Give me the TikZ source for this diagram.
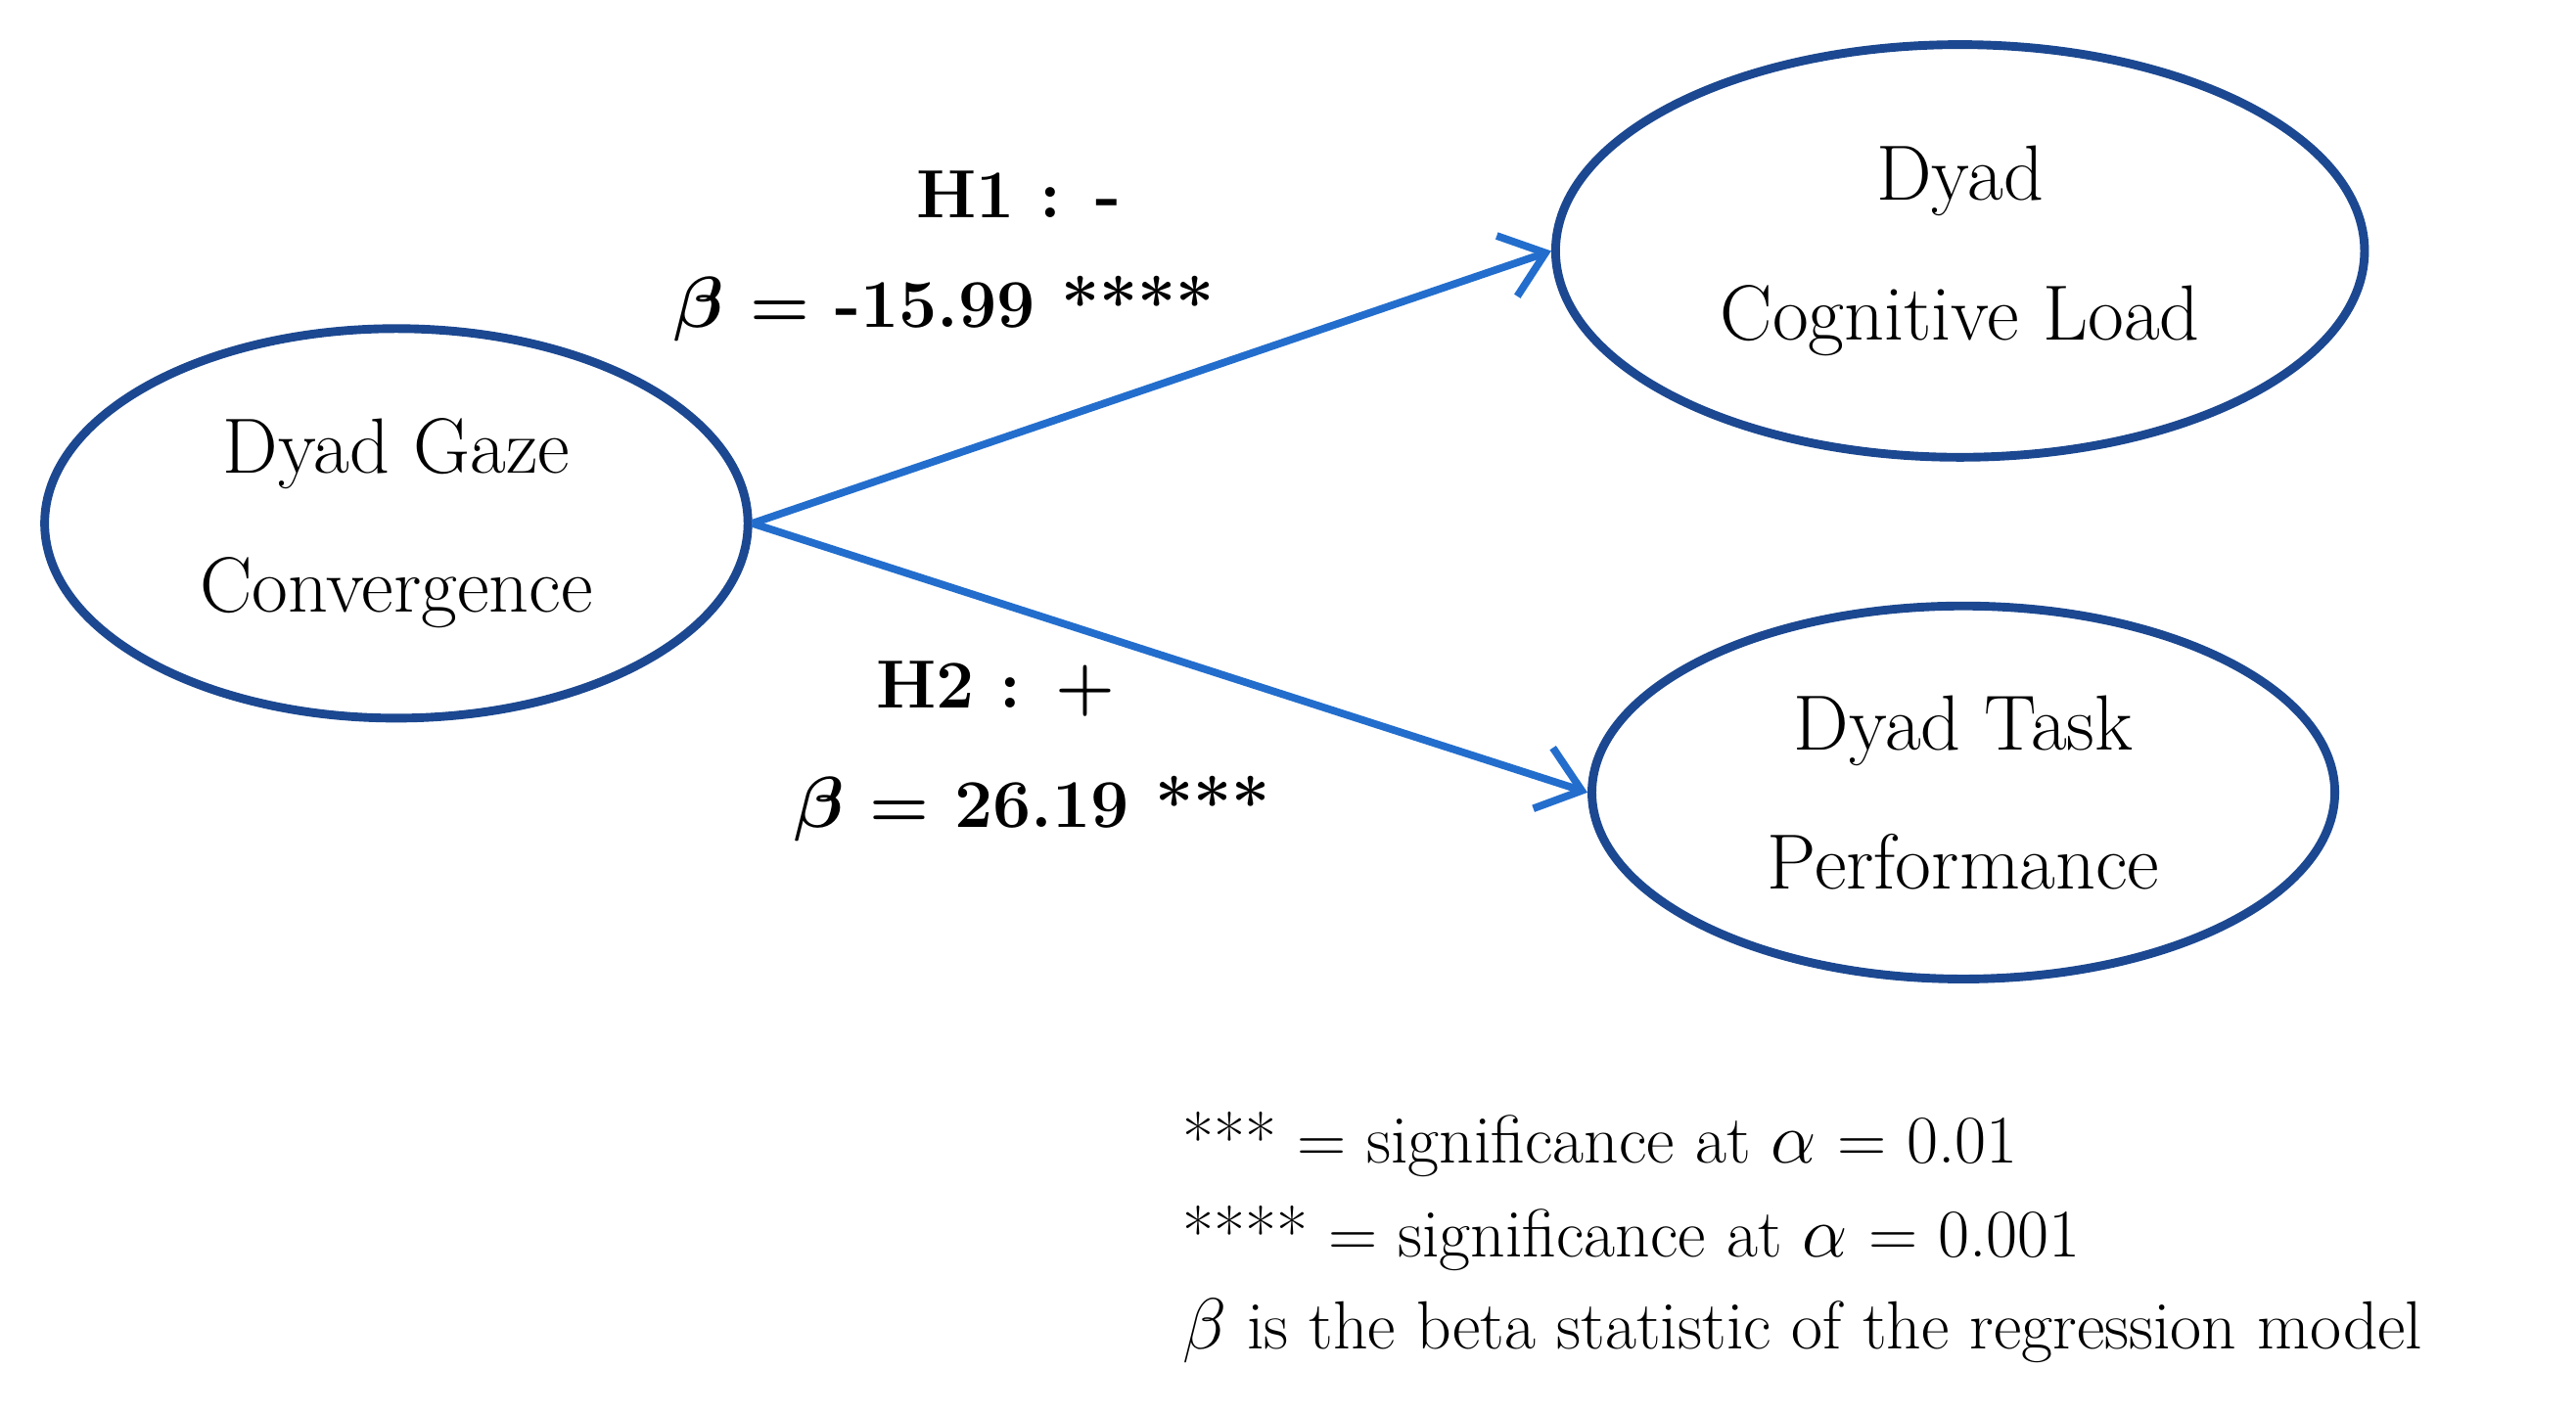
\documentclass[tikz,border=0pt]{standalone}
\usetikzlibrary{arrows.meta,shapes.geometric}
\definecolor{edge}{RGB}{28,72,145}
\definecolor{arr}{RGB}{35,110,205}
\begin{document}
\begin{tikzpicture}[x=0.02cm,y=-0.02cm,
  ell/.style={draw=edge,line width=3pt,ellipse,inner sep=0pt,font=\fontsize{27}{34}\selectfont,align=center},
  hl/.style={font=\fontsize{23.5}{30}\selectfont\bfseries\boldmath},
  leg/.style={font=\fontsize{23.5}{28}\selectfont,anchor=west},
  ar/.style={draw=arr,line width=2.6pt,-{Straight Barb[length=14pt,width=22pt,line width=2.6pt]}}]
\useasboundingbox (0,0) rectangle (1560,856);
\node[ell,minimum width=8.52cm,minimum height=4.72cm] (a) at (240,317) {Dyad Gaze\\[14pt]Convergence};
\node[ell,minimum width=9.8cm,minimum height=5cm] (b) at (1187,152) {Dyad\\[14pt]Cognitive Load};
\node[ell,minimum width=9cm,minimum height=4.52cm] (c) at (1189,480) {Dyad Task\\[14pt]Performance};
\draw[ar] (a.east) -- (b.west);
\draw[ar] (a.east) -- (c.west);
\node[hl] (h1) at (617,118) {H1 : -};
\node[hl] (b1) at (572,187) {$\beta$ = -15.99 ****};
\node[hl] (h2) at (603,417) {H2 : +};
\node[hl] (b2) at (625,490) {$\beta$ = 26.19 ***};
\node[leg] (l1) at (710,693) {*** = significance at $\alpha$ = 0.01};
\node[leg] (l2) at (710,750) {**** = significance at $\alpha$ = 0.001};
\node[leg] (l3) at (710,806) {$\beta$ is the beta statistic of the regression model};
\end{tikzpicture}
\end{document}
